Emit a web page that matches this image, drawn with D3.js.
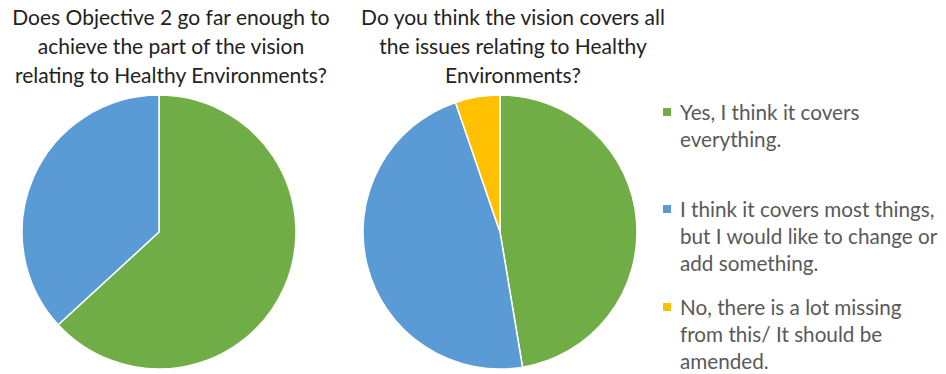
<!DOCTYPE html>
<html>
<head>
<meta charset="utf-8">
<script src="https://cdn.jsdelivr.net/npm/d3@7"></script>
<style>
  html, body { margin: 0; padding: 0; background: #fff; }
  svg { display: block; }
  text { font-family: Lato, "Open Sans", sans-serif; }
</style>
</head>
<body>
<svg id="chart" width="946" height="374"></svg>
<script>
// Response categories (shared by both pies and the legend)
const categories = [
  "Yes, I think it covers everything.",
  "I think it covers most things, but I would like to change or add something.",
  "No, there is a lot missing from this/ It should be amended."
];
const legendLines = [
  ["Yes, I think it covers", "everything."],
  ["I think it covers most things,", "but I would like to change or", "add something."],
  ["No, there is a lot missing", "from this/ It should be", "amended."]
];
const colors = ["#70AD47", "#5B9BD5", "#FFC000"];

// Question 1: Objective 2 (Yes / partly)
const q1Title = ["Does Objective 2 go far enough to", "achieve the part of the vision", "relating to Healthy Environments?"];
const q1Values = [12, 7];

// Question 2: the vision overall (Yes / mostly / No)
const q2Title = ["Do you think the vision covers all", "the issues relating to Healthy", "Environments?"];
const q2Values = [9, 9, 1];

const svg = d3.select("#chart");

const pie = d3.pie().sort(null).value(d => d);
const radius = 137;
const arc = d3.arc().innerRadius(0).outerRadius(radius);

function drawPie(values, cx, cy) {
  const g = svg.append("g").attr("transform", `translate(${cx},${cy})`);
  g.selectAll("path")
    .data(pie(values))
    .join("path")
    .attr("d", arc)
    .attr("fill", (d, i) => colors[i])
    .attr("stroke", "#fff")
    .attr("stroke-width", 1.5);
}

function drawTitle(lines, cx, y0) {
  const t = svg.append("text")
    .attr("text-anchor", "middle")
    .attr("font-size", 21)
    .attr("fill", "#222");
  t.selectAll("tspan")
    .data(lines)
    .join("tspan")
    .attr("x", cx)
    .attr("y", (d, i) => y0 + i * 29)
    .text(d => d);
}

drawPie(q1Values, 159, 232);
drawPie(q2Values, 500, 232);
drawTitle(q1Title, 171, 25);
drawTitle(q2Title, 513, 25);

// Legend
const legendX = 663;
const legendItemsY = [120, 217, 315];
const lineStep = 26.8;
const legend = svg.append("g");
legendLines.forEach((lines, i) => {
  legend.append("rect")
    .attr("x", legendX)
    .attr("y", legendItemsY[i] - 12)
    .attr("width", 8)
    .attr("height", 8)
    .attr("fill", colors[i]);
  const t = legend.append("text")
    .attr("font-size", 20.7)
    .attr("fill", "#595959");
  t.selectAll("tspan")
    .data(lines)
    .join("tspan")
    .attr("x", legendX + 17)
    .attr("y", (d, j) => legendItemsY[i] + j * lineStep)
    .text(d => d);
});
</script>
</body>
</html>
